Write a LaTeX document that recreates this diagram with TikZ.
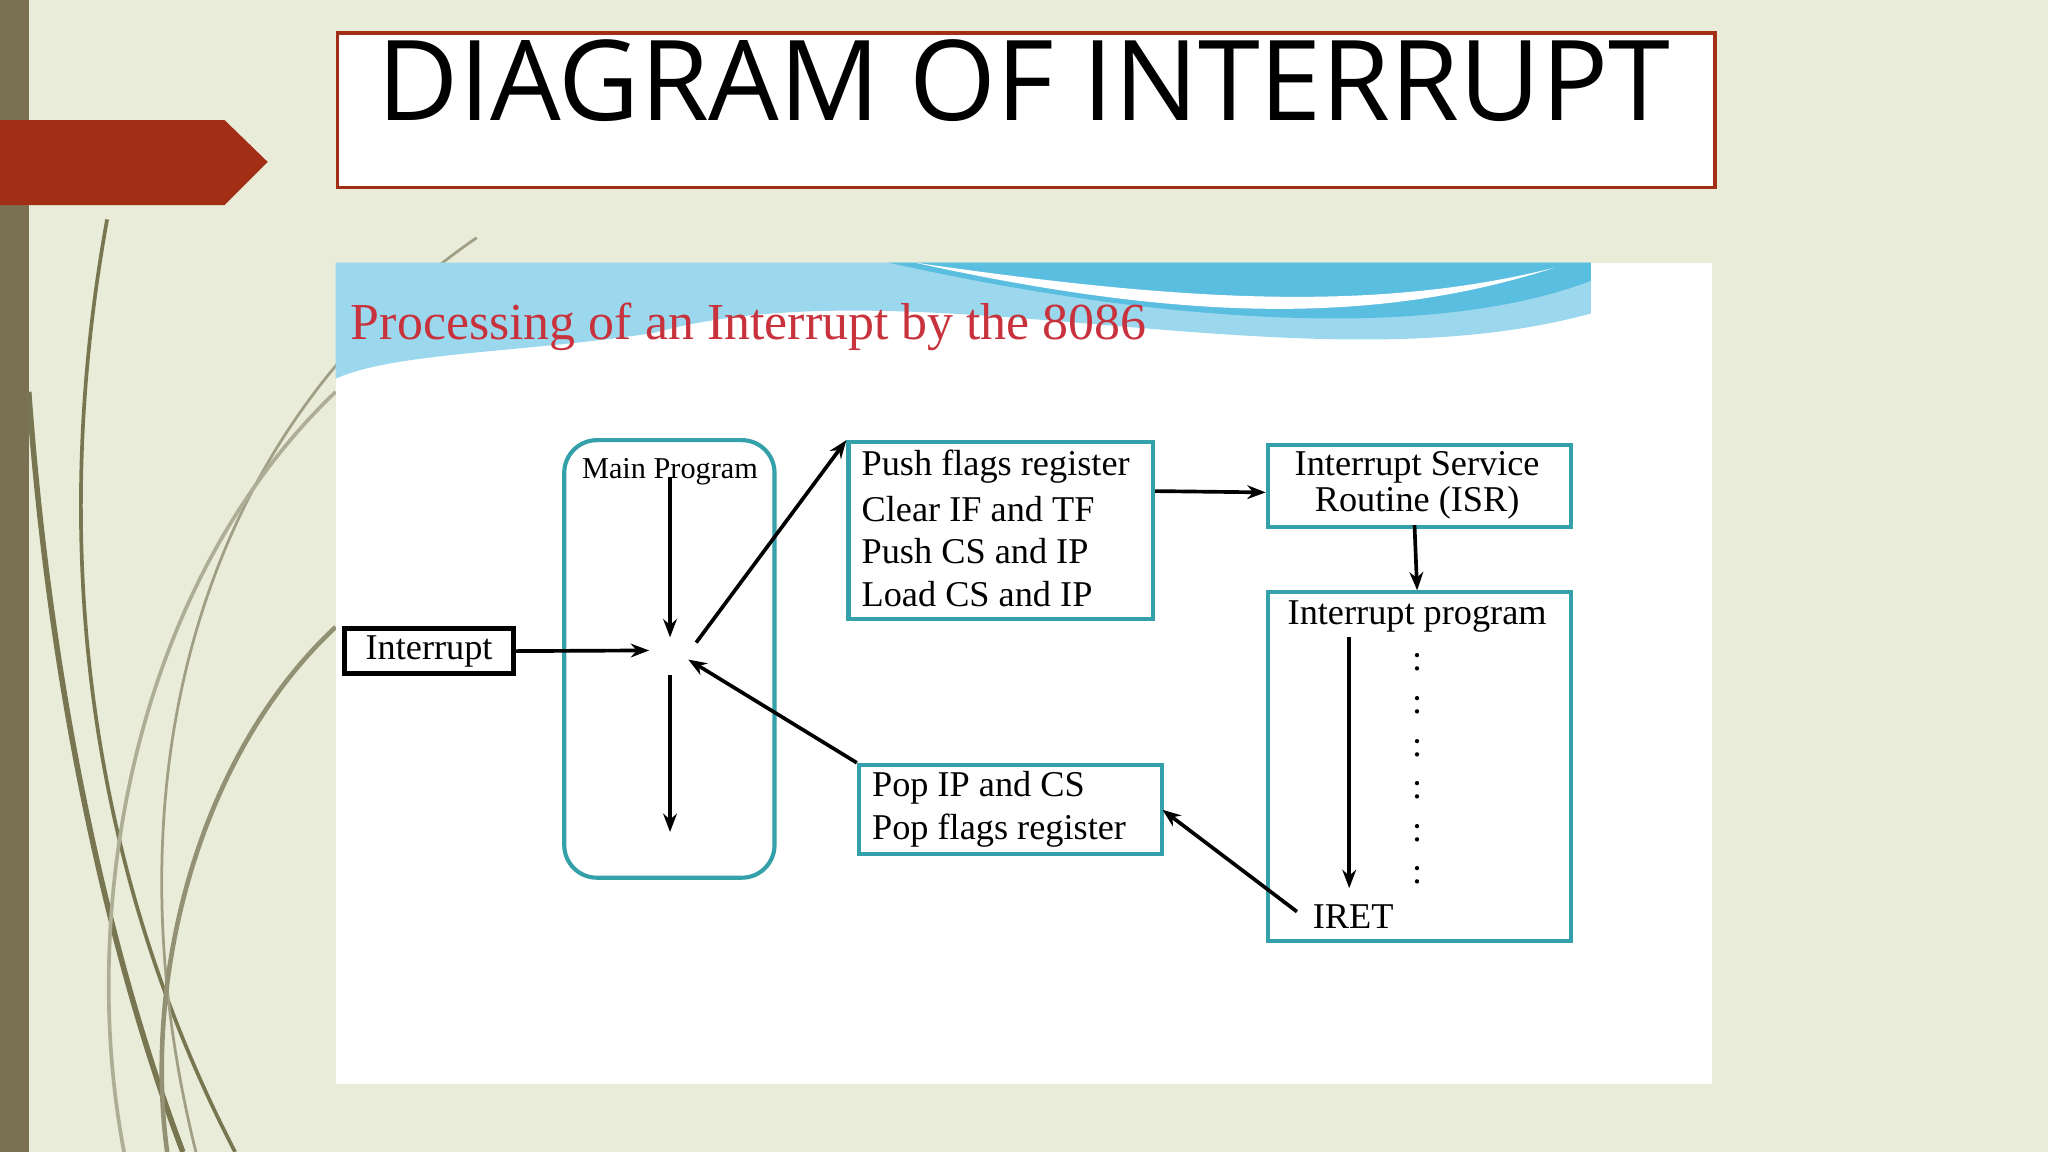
\documentclass[tikz,border=0pt]{standalone}
\usepackage{fontspec}
\setmainfont{Liberation Serif}
\newfontfamily\titlefont{Open Sans}
\usetikzlibrary{arrows.meta}
\definecolor{bgc}{RGB}{232,236,216}
\definecolor{barc}{RGB}{122,112,82}
\definecolor{redc}{RGB}{162,46,22}
\definecolor{tealc}{RGB}{52,160,170}
\definecolor{wavec}{RGB}{90,190,225}
\definecolor{titler}{RGB}{200,50,60}
\definecolor{curvec}{RGB}{120,118,80}
\tikzset{
  box/.style={draw=tealc,line width=0.9pt,fill=white},
  txt/.style={font=\fontsize{7.9}{9}\selectfont,inner sep=0pt},
  arr/.style={-{Stealth[length=4pt,width=3pt]},line width=0.8pt}
}
\begin{document}
\begin{tikzpicture}[x=0.01cm,y=-0.01cm]
\useasboundingbox (0,0) rectangle (1568,882);
\fill[bgc] (0,0) rectangle (1568,882);
\fill[barc] (0,0) rectangle (22,882);
% decorative curves
\draw[curvec,line width=0.8pt] (82,168) .. controls (40,400) and (60,650) .. (180,882);
\draw[curvec!70,line width=0.6pt] (365,182) .. controls (150,330) and (80,600) .. (150,882);
\draw[curvec,line width=1.2pt] (22,300) .. controls (40,550) and (90,750) .. (140,882);
\draw[curvec!80,line width=1pt] (257,480) .. controls (150,580) and (110,750) .. (128,882);
\draw[curvec!60,line width=0.8pt] (257,300) .. controls (100,450) and (60,700) .. (95,882);
% red arrow
\fill[redc] (0,92) -- (172,92) -- (205,124) -- (172,157) -- (0,157) -- cycle;
% title
\node[draw=redc,line width=0.8pt,fill=white,minimum width=10.54cm,minimum height=1.18cm,anchor=north west,inner sep=0pt] (tbox) at (257,24) {};
\node[font=\titlefont\fontsize{24.3}{28}\selectfont,inner sep=0pt] (title) at (784,62) {DIAGRAM OF INTERRUPT};
% image area
\fill[white] (257,201) rectangle (1311,830);
\fill[wavec!60] (257,201) -- (1218,201) -- (1218,240) .. controls (1000,300) and (700,200) .. (500,255) .. controls (400,270) and (300,270) .. (257,290) -- cycle;
\fill[wavec] (680,201) -- (1218,201) -- (1218,215) .. controls (1100,260) and (900,250) .. (680,201) -- cycle;
\fill[white] (700,201) .. controls (900,230) and (1050,240) .. (1190,205) .. controls (1050,250) and (900,245) .. (700,201);
\node[anchor=west,text=titler,font=\fontsize{11.3}{13}\selectfont,inner sep=0pt] (ptitle) at (268,250) {Processing of an Interrupt by the 8086};
% diagram
\node[draw=black,line width=1.1pt,fill=white,minimum width=1.29cm,minimum height=0.35cm,inner sep=0pt] (intr) at (328.5,498.5) {};
\node[txt] at (intr) {Interrupt};
\draw[tealc,line width=0.9pt,rounded corners=0.25cm] (432,337) rectangle (593,672);
\node[txt,font=\fontsize{6.6}{8}\selectfont] (mp) at (513,361) {Main Program};
\coordinate (m1) at (513,365);
\coordinate (m2) at (513,488);
\coordinate (m3) at (513,517);
\coordinate (m4) at (513,637);
\coordinate (ci) at (497,498);
\coordinate (co) at (533,492);
\coordinate (cin) at (527,505);
\draw[arr] (m1) -- (m2);
\draw[arr] (m3) -- (m4);
\draw[arr] (intr.east) -- (ci);
\node[box,minimum width=2.33cm,minimum height=1.35cm,anchor=north west,inner sep=0pt] (push) at (648,337) {};
\node[txt,anchor=west] at (659,357) {Push flags register};
\node[txt,anchor=west] at (659,390) {Clear IF and TF};
\node[txt,anchor=west] at (659,422) {Push CS and IP};
\node[txt,anchor=west] at (659,455) {Load CS and IP};
\draw[arr] (co) -- (push.north west);
\node[box,minimum width=2.32cm,minimum height=0.63cm,anchor=north west,inner sep=0pt] (isr) at (969,339) {};
\node[txt] at (1085,358) {Interrupt Service};
\node[txt] at (1085,385) {Routine (ISR)};
\draw[arr] (push.east |- 0,376) -- (isr.west |- 0,377);
\node[box,minimum width=2.32cm,minimum height=2.67cm,anchor=north west,inner sep=0pt] (ip) at (969,452) {};
\node[txt] at (1085,472) {Interrupt program};
\foreach \y in {507,540,573,605,638,670} \node[txt] at (1085,\y) {:};
\coordinate (a1) at (1033,488);
\coordinate (a2) at (1033,680);
\draw[arr] (a1) -- (a2);
\node[txt] (iret) at (1036,702) {IRET};
\draw[arr] (1083,402) -- (ip.north -| 1085,0);
\node[box,minimum width=2.32cm,minimum height=0.68cm,anchor=north west,inner sep=0pt] (pop) at (656,584) {};
\node[txt,anchor=west] at (667,603) {Pop IP and CS};
\node[txt,anchor=west] at (667,636) {Pop flags register};
\draw[arr] (pop.north west) -- (cin);
\coordinate (ir) at (993,698);
\draw[arr] (ir) -- (890,620);
\end{tikzpicture}
\end{document}
